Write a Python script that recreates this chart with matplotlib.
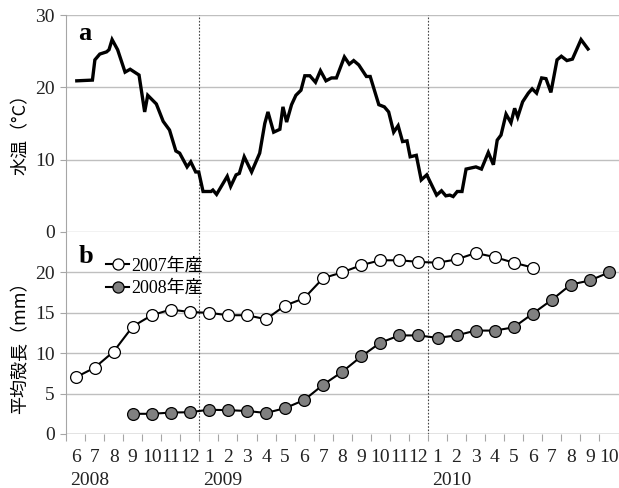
import numpy as np
import pandas as pd
import matplotlib
matplotlib.use("Agg")
import matplotlib.pyplot as plt
from matplotlib.transforms import blended_transform_factory

SERIF = ["Liberation Serif", "Noto Sans CJK JP"]
JP = ["Noto Sans CJK JP", "DejaVu Sans"]

# -------------------------------
# DATA
# -------------------------------
temp_dates = [
    "2008-06-18", "2008-07-13", "2008-07-17", "2008-07-25", "2008-08-05", "2008-08-09",
    "2008-08-14", "2008-08-23", "2008-09-04", "2008-09-12", "2008-09-26", "2008-10-05",
    "2008-10-10", "2008-10-24", "2008-11-04", "2008-11-14", "2008-11-24", "2008-11-30",
    "2008-12-12", "2008-12-18", "2008-12-26", "2008-12-31", "2009-01-07", "2009-01-20",
    "2009-01-23", "2009-01-29", "2009-02-14", "2009-02-19", "2009-02-27", "2009-03-04",
    "2009-03-12", "2009-03-24", "2009-04-06", "2009-04-14", "2009-04-19", "2009-04-28",
    "2009-05-08", "2009-05-13", "2009-05-19", "2009-05-27", "2009-06-03", "2009-06-11",
    "2009-06-17", "2009-06-25", "2009-07-04", "2009-07-12", "2009-07-21", "2009-07-30",
    "2009-08-07", "2009-08-20", "2009-08-28", "2009-09-04", "2009-09-12", "2009-09-24",
    "2009-09-30", "2009-10-14", "2009-10-23", "2009-10-30", "2009-11-07", "2009-11-14",
    "2009-11-21", "2009-11-28", "2009-12-03", "2009-12-13", "2009-12-21", "2009-12-30",
    "2010-01-15", "2010-01-23", "2010-01-30", "2010-02-05", "2010-02-10", "2010-02-16",
    "2010-02-23", "2010-03-01", "2010-03-17", "2010-03-26", "2010-04-06", "2010-04-14",
    "2010-04-20", "2010-04-26", "2010-05-04", "2010-05-12", "2010-05-18", "2010-05-23",
    "2010-05-31", "2010-06-09", "2010-06-15", "2010-06-22", "2010-06-30", "2010-07-07",
    "2010-07-15", "2010-07-25", "2010-08-01", "2010-08-10", "2010-08-19", "2010-09-02",
    "2010-09-13",
]
temp_values = [
    20.9, 21.0, 23.8, 24.6, 24.9, 25.2, 26.6, 25.2, 22.1, 22.5, 21.7, 16.6,
    18.9, 17.7, 15.3, 14.1, 11.2, 10.9, 9.0, 9.7, 8.3, 8.3, 5.6, 5.6,
    5.8, 5.2, 7.7, 6.3, 7.9, 8.1, 10.4, 8.3, 10.9, 15.0, 16.6, 13.8,
    14.2, 17.3, 15.2, 17.6, 18.9, 19.6, 21.6, 21.6, 20.7, 22.3, 20.9, 21.3,
    21.3, 24.2, 23.2, 23.7, 23.1, 21.5, 21.5, 17.6, 17.3, 16.6, 13.8, 14.7,
    12.5, 12.6, 10.4, 10.6, 7.2, 7.9, 5.1, 5.7, 5.0, 5.1, 4.9, 5.6,
    5.6, 8.7, 9.0, 8.7, 11.0, 9.3, 12.7, 13.4, 16.3, 15.1, 17.1, 15.9,
    18.0, 19.2, 19.8, 19.2, 21.3, 21.2, 19.3, 23.8, 24.3, 23.7, 23.9, 26.6,
    25.3,
]

month_numbers = [6, 7, 8, 9, 10, 11, 12,
                 1, 2, 3, 4, 5, 6, 7, 8, 9, 10, 11, 12,
                 1, 2, 3, 4, 5, 6, 7, 8, 9, 10]
month_years = [2008] * 7 + [2009] * 12 + [2010] * 10

nan = np.nan
shell_2007 = [7.0, 8.2, 10.2, 13.3, 14.7, 15.4, 15.1,
              15.0, 14.7, 14.7, 14.2, 15.9, 16.8, 19.3, 20.0, 20.9, 21.5, 21.5, 21.3,
              21.2, 21.6, 22.4, 21.9, 21.2, 20.6, nan, nan, nan, nan]
shell_2008 = [nan, nan, nan, 2.5, 2.5, 2.65, 2.7,
              3.0, 2.95, 2.85, 2.6, 3.2, 4.2, 6.1, 7.7, 9.6, 11.3, 12.2, 12.2,
              11.9, 12.2, 12.8, 12.8, 13.2, 14.9, 16.6, 18.5, 19.0, 20.0]

legend_labels = ["2007年産", "2008年産"]

# -------------------------------
# POSITIONS (months since 2008-06-01)
# -------------------------------
start_year, start_month = month_years[0], month_numbers[0]
d = pd.to_datetime(temp_dates)
temp_x = ((d.year - start_year) * 12 + d.month - start_month
          + (d.day - 1) / d.days_in_month).to_numpy()

n_months = len(month_numbers)
centers = np.arange(n_months) + 0.5
year_starts = [i for i in range(n_months) if i == 0 or month_years[i] != month_years[i - 1]]

# -------------------------------
# FIGURE
# -------------------------------
fig = plt.figure(figsize=(6.19, 4.88), dpi=100)
L, R = 66 / 619, 618.5 / 619
ax_a = fig.add_axes([L, 1 - 232 / 488, R - L, 217 / 488])
ax_b = fig.add_axes([L, 1 - 434 / 488, R - L, 202 / 488])

grid_c = "#bfbfbf"
axis_c = "#a6a6a6"

for ax in (ax_a, ax_b):
    ax.set_xlim(0, n_months)
    for s in ("top", "right", "bottom"):
        ax.spines[s].set_visible(False)
    ax.spines["left"].set_color(axis_c)
    ax.grid(axis="y", color=grid_c, lw=1.0)
    ax.set_axisbelow(True)
    ax.tick_params(axis="y", direction="out", length=4, color=axis_c, labelsize=14,
                   labelcolor="#222222", pad=4)
    for lab in ax.get_yticklabels():
        lab.set_family(SERIF)
    for yr in year_starts[1:]:
        ax.axvline(yr, color="#444444", lw=0.8, ls=(0, (1.5, 1.5)), zorder=1)

# panel a: water temperature
ax_a.plot(temp_x, temp_values, color="black", lw=2.4, solid_joinstyle="miter")
ax_a.set_ylim(0, 30)
ax_a.set_yticks([0, 10, 20, 30])
ax_a.set_xticks([])
ax_a.text(0.022, 0.885, "a", transform=ax_a.transAxes, fontsize=19, fontweight="bold",
          family=SERIF, va="baseline")
ax_a.set_ylabel("水温（°C）", family=JP, fontsize=13)

# panel b: mean shell length
ax_b.plot(centers, shell_2007, color="black", lw=1.5, marker="o", ms=8.5,
          mfc="white", mec="black", mew=0.9, label=legend_labels[0], zorder=3)
ax_b.plot(centers, shell_2008, color="black", lw=1.5, marker="o", ms=8.5,
          mfc="#808080", mec="black", mew=0.9, label=legend_labels[1], zorder=3)
ax_b.set_ylim(0, 25)
ax_b.set_yticks([0, 5, 10, 15, 20])
ax_b.axhline(0, color=axis_c, lw=1.0)
ax_b.set_xticks(np.arange(n_months + 1))
ax_b.set_xticklabels([])
ax_b.tick_params(axis="x", which="major", direction="out", length=5, color=axis_c)
ax_b.set_xticks(centers, minor=True)
ax_b.set_xticklabels([str(m) for m in month_numbers], minor=True, family=SERIF,
                     fontsize=14, color="#222222")
ax_b.tick_params(axis="x", which="minor", length=0, pad=11)

trans = blended_transform_factory(ax_b.transData, ax_b.transAxes)
for i in year_starts:
    ax_b.text(i + 0.2, -0.228, str(month_years[i]), transform=trans, family=SERIF,
              fontsize=14, color="#222222", ha="left", va="center")

ax_b.text(0.022, 0.846, "b", transform=ax_b.transAxes, fontsize=19, fontweight="bold",
          family=SERIF, va="baseline")
ax_b.set_ylabel("平均殻長（mm）", family=JP, fontsize=13)

leg = ax_b.legend(loc="upper left", bbox_to_anchor=(0.072, 0.875), frameon=False,
                  handlelength=1.3, handletextpad=0.1, borderaxespad=0, borderpad=0,
                  labelspacing=0.32, prop={"family": SERIF, "size": 13})
for h in leg.legend_handles:
    h.set_markersize(8)

ax_a.yaxis.set_label_coords(-0.066, 0.47)
ax_b.yaxis.set_label_coords(-0.066, 0.45)

fig.savefig("out.png", dpi=100)
